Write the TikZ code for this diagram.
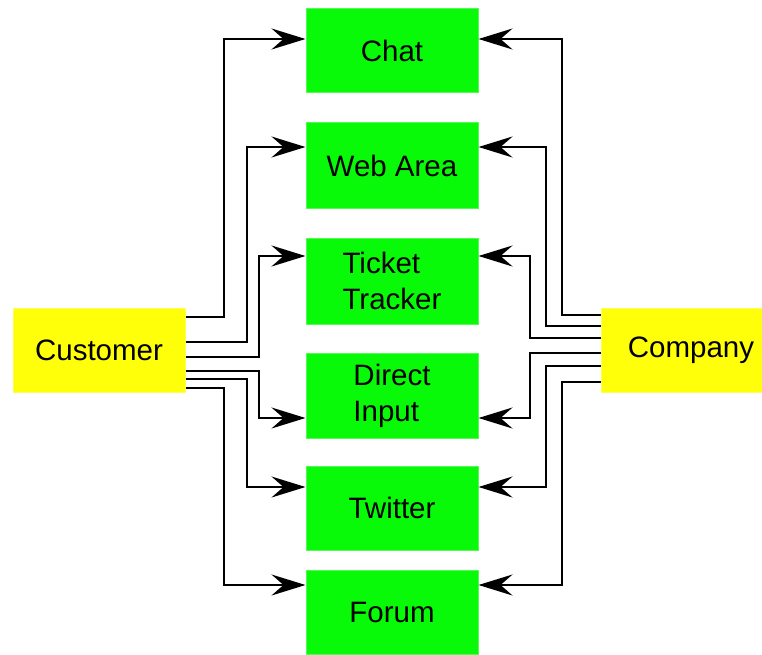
\documentclass[tikz,border=0pt]{standalone}
\usepackage{fontspec}
\setmainfont{Liberation Sans}
\usetikzlibrary{arrows.meta}
\definecolor{boxgreen}{RGB}{8,250,8}
\definecolor{boxyellow}{RGB}{255,255,10}
\begin{document}
\begin{tikzpicture}[x=1pt,y=-1pt,
  chan/.style={rectangle,fill=boxgreen,draw=boxgreen!70!white,line width=1pt,minimum width=172pt,minimum height=84pt,inner sep=0pt,align=left,font=\fontsize{29.5}{36}\selectfont},
  party/.style={rectangle,fill=boxyellow,draw=boxyellow!70!white,line width=1pt,minimum width=172pt,minimum height=84pt,inner sep=0pt,font=\fontsize{29.5}{36}\selectfont},
  link/.style={line width=2pt,-{Stealth[length=34pt,width=21pt,inset=12pt]}}]
\useasboundingbox (0,0) rectangle (762,655);
\node[chan] (chat) at (392,51) {Chat};
\node[chan,minimum height=85pt] (web) at (392,165.5) {Web Area};
\node[chan,minimum height=86pt] (ticket) at (392,281) {Ticket\\Tracker};
\node[chan,minimum height=85pt] (direct) at (392,395.5) {Direct\\Input};
\node[chan] (twitter) at (392,508) {Twitter};
\node[chan] (forum) at (392,612) {Forum};
\node[party] (cust) at (99,350) {Customer};
\node[party,minimum width=180pt] (comp) at (691,350) {Company};
% customer side
\draw[link] (cust.east |- 0,317) -| (224,39) -- (chat.west |- 0,39);
\draw[link] (cust.east |- 0,342) -| (247,147) -- (web.west |- 0,147);
\draw[link] (cust.east |- 0,357) -| (259,256) -- (ticket.west |- 0,256);
\draw[link] (cust.east |- 0,371) -| (259,418) -- (direct.west |- 0,418);
\draw[link] (cust.east |- 0,379) -| (247,487) -- (twitter.west |- 0,487);
\draw[link] (cust.east |- 0,388) -| (224,585) -- (forum.west |- 0,585);
% company side
\draw[link] (comp.west |- 0,315) -| (562,39) -- (chat.east |- 0,39);
\draw[link] (comp.west |- 0,326) -| (546,147) -- (web.east |- 0,147);
\draw[link] (comp.west |- 0,338) -| (530,256) -- (ticket.east |- 0,256);
\draw[link] (comp.west |- 0,353) -| (530,418) -- (direct.east |- 0,418);
\draw[link] (comp.west |- 0,366) -| (546,487) -- (twitter.east |- 0,487);
\draw[link] (comp.west |- 0,382) -| (562,585) -- (forum.east |- 0,585);
\end{tikzpicture}
\end{document}
